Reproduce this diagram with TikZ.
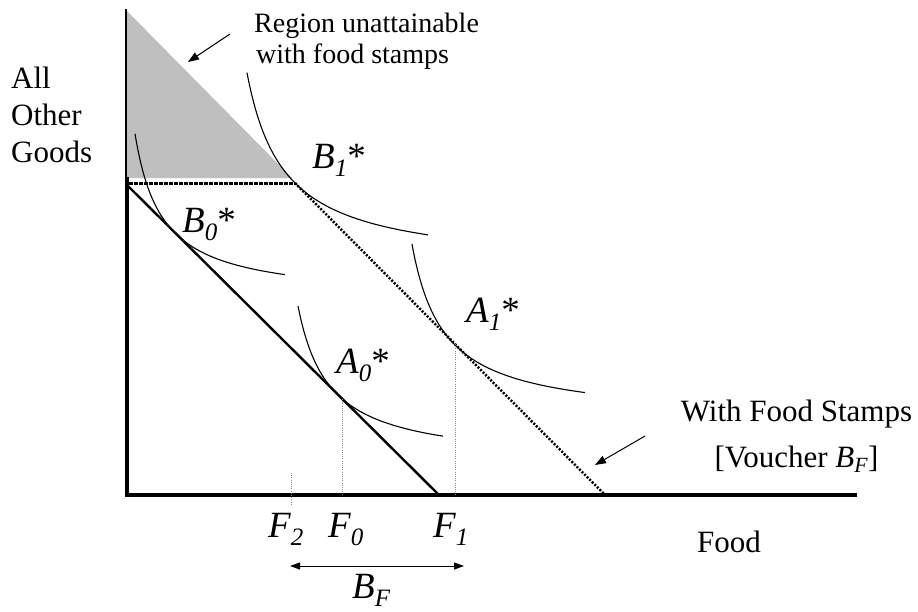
\documentclass[tikz,border=0pt]{standalone}
\usepackage{fontspec}
\setmainfont{Liberation Serif}
\usetikzlibrary{arrows.meta}
\newcommand{\sbs}[1]{\raisebox{-0.24em}{\fontsize{25}{25}\selectfont #1}}
\begin{document}
\begin{tikzpicture}[x=1pt,y=-1pt,
  curve/.style={line width=1.1pt},
  axisline/.style={line width=3.8pt, line join=miter},
  budget/.style={line width=2.4pt},
  dotbudget/.style={line width=2.5pt, dash pattern=on 2pt off 1.6pt},
  kinkline/.style={line width=3pt, dash pattern=on 3.5pt off 1.5pt},
  guide/.style={line width=1pt, black!45, dash pattern=on 1pt off 1.2pt},
  pointer/.style={line width=1pt, -{Triangle[length=11pt,width=8pt]}},
  bothways/.style={line width=1pt, {Triangle[length=10pt,width=7pt]}-{Triangle[length=10pt,width=7pt]}},
  lbl/.style={inner sep=0pt, anchor=base west, font=\fontsize{31}{37}\selectfont},
  note/.style={inner sep=0pt, anchor=base west, font=\fontsize{28}{31}\selectfont},
  ptlab/.style={inner sep=0pt, anchor=base west, font=\fontsize{37}{40}\selectfont\itshape},
]
\useasboundingbox (0,0) rectangle (918,611);

% coordinates
\coordinate (Ytop) at (126,9);
\coordinate (Ymid) at (126,179);
\coordinate (Yk) at (127,177);
\coordinate (O) at (127,495);
\coordinate (Xend) at (857,495);
\coordinate (K) at (295,183);
\coordinate (Kstart) at (129,183);
\coordinate (L0) at (127,185);
\coordinate (X0) at (439,495);
\coordinate (X1) at (605,495);
\coordinate (A0) at (342,399);
\coordinate (A1) at (455,344);
\coordinate (F0) at (342,495);
\coordinate (F1) at (455,495);
\coordinate (F2a) at (291,473);
\coordinate (F2b) at (291,505);
\coordinate (BFl) at (290,566);
\coordinate (BFr) at (464,566);
\coordinate (p1s) at (230,34);
\coordinate (p1e) at (188,62);
\coordinate (p2s) at (645,436);
\coordinate (p2e) at (595,465);

% unattainable region
\fill[black!25] (126,10) -- (126,178) -- (292,178) -- cycle;

% axes
\draw[line width=1.5pt] (Ytop) -- (Ymid);
\draw[axisline] (Yk) -- (O) -- (Xend);

% budget lines
\draw[kinkline] (Kstart) -- (K);
\draw[budget] (L0) -- (X0);
\draw[dotbudget] (K) -- (X1);

% indifference curves
\draw[curve] plot[domain=-0.832:0.942, samples=60, variable=\t] ({210+85*exp(\t)}, {268-85*exp(-\t)});
\draw[curve] plot[domain=-0.909:0.971, samples=60, variable=\t] ({108+67*exp(\t)}, {300-67*exp(-\t)});
\draw[curve] plot[domain=-0.814:0.922, samples=60, variable=\t] ({267+70*exp(\t)}, {464-70*exp(-\t)});
\draw[curve] plot[domain=-0.852:1.006, samples=60, variable=\t] ({380+75*exp(\t)}, {420-75*exp(-\t)});

% guides
\draw[guide] (A0) -- (F0);
\draw[guide] (A1) -- (F1);
\draw[guide] (F2a) -- (F2b);

% pointers
\draw[pointer] (p1s) -- (p1e);
\draw[pointer] (p2s) -- (p2e);
\draw[bothways] (BFl) -- (BFr);

% texts
\node[note] (reg1) at (254,32) {Region unattainable};
\node[note] (reg2) at (256,63) {with food stamps};
\node[lbl] (ag1) at (11,88) {All};
\node[lbl] (ag2) at (11,125) {Other};
\node[lbl] (ag3) at (11,162) {Goods};
\node[lbl] (food) at (697,552) {Food};
\node[lbl, anchor=base] (wfs1) at (796.5,421) {With Food Stamps};
\node[lbl, anchor=base] (wfs2) at (796.5,467) {[Voucher \textit{B\textsubscript{F}}]};

\node[ptlab] (b1) at (312,168) {B\sbs{1}\textup{*}};
\node[ptlab] (b0) at (182,232) {B\sbs{0}\textup{*}};
\node[ptlab] (a0) at (336,373) {A\sbs{0}\textup{*}};
\node[ptlab] (a1) at (466,322) {A\sbs{1}\textup{*}};
\node[ptlab] (f2) at (268,537) {F\sbs{2}};
\node[ptlab] (f0) at (328,537) {F\sbs{0}};
\node[ptlab] (f1) at (433,537) {F\sbs{1}};
\node[ptlab] (bf) at (352,598) {B\sbs{F}};
\end{tikzpicture}
\end{document}
